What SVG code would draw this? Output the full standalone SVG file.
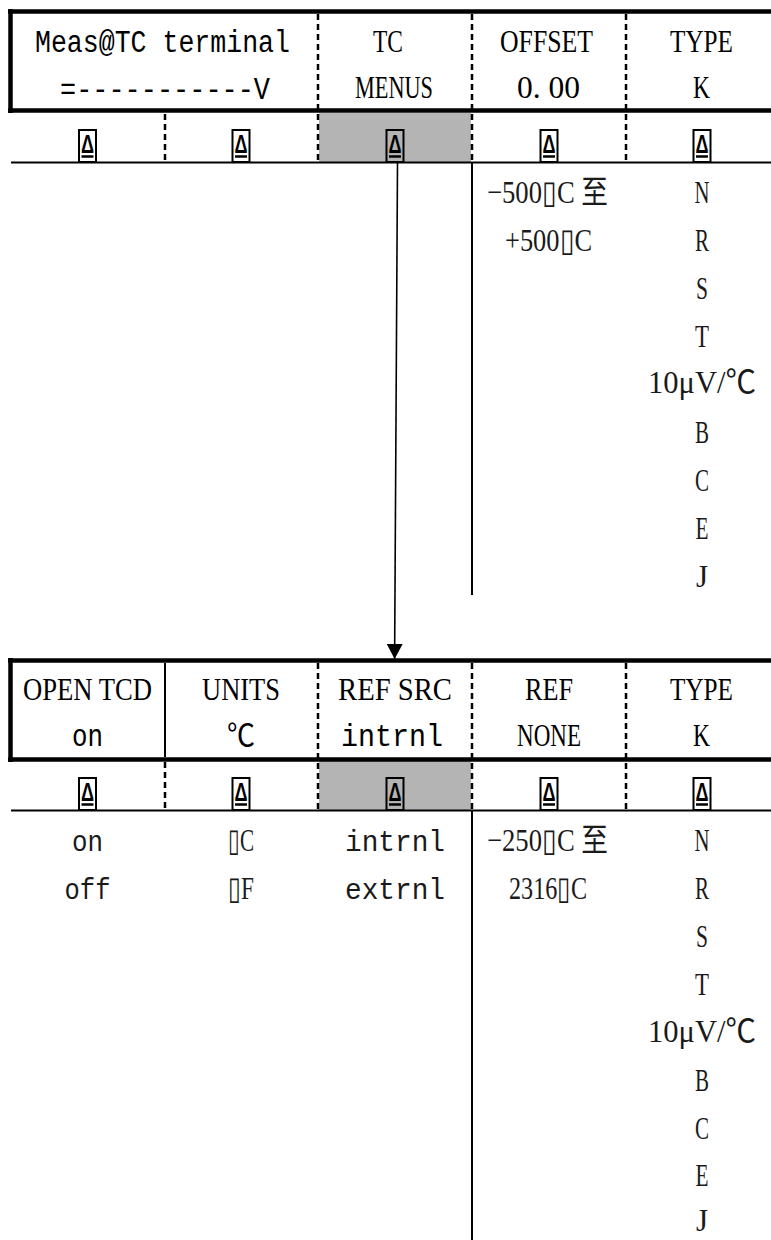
<svg xmlns="http://www.w3.org/2000/svg" xmlns:xlink="http://www.w3.org/1999/xlink" width="771" height="1240" viewBox="0 0 771 1240">
<style>
.thick{stroke:#000;stroke-width:4.5;fill:none}
.thin{stroke:#000;stroke-width:2;fill:none}
.dash{stroke:#000;stroke-width:2.5;stroke-dasharray:6 4;fill:none}
.grey{fill:#b4b4b4}
.t{font-family:"Liberation Serif","Noto Sans CJK SC",serif;font-size:31px;text-anchor:middle;fill:#000}
.m{font-family:"Liberation Mono","Noto Sans CJK SC",monospace;font-size:31px;text-anchor:middle;fill:#000}
.o{font-family:"Liberation Serif","Noto Sans CJK SC",serif;font-size:32px;text-anchor:middle;fill:#1a1a1a}
.om{font-family:"Liberation Mono","Noto Sans CJK SC",monospace;font-size:29px;text-anchor:middle;fill:#1a1a1a}
.tri{font-family:"Liberation Sans",sans-serif;font-weight:bold;font-size:25px;text-anchor:middle;fill:#000}
</style>
<defs>
<g id="key">
<rect x="-8.5" y="0" width="17" height="32" fill="none" stroke="#000" stroke-width="2"/>
<text class="tri" x="0" y="23" textLength="13" lengthAdjust="spacingAndGlyphs">Δ</text>
<line x1="-6" y1="26.5" x2="6" y2="26.5" stroke="#000" stroke-width="2.5"/>
</g>
<marker id="ah" markerWidth="16" markerHeight="16" refX="15" refY="8" orient="auto" markerUnits="userSpaceOnUse">
<path d="M0,0 L15,8 L0,16 z" fill="#000"/>
</marker>
</defs>
<rect width="771" height="1240" fill="#fff"/>

<!-- TOP MENU -->
<g id="top-menu">
<rect class="grey" x="319" y="113" width="152" height="49"/>
<line class="thick" x1="8" y1="11.5" x2="771" y2="11.5"/>
<line class="thick" x1="10.5" y1="9" x2="10.5" y2="113"/>
<line class="thick" x1="8" y1="110.5" x2="771" y2="110.5"/>
<line class="dash" x1="318" y1="14" x2="318" y2="162"/>
<line class="dash" x1="472" y1="14" x2="472" y2="162"/>
<line class="dash" x1="626" y1="14" x2="626" y2="162"/>
<line class="dash" x1="165" y1="114" x2="165" y2="162"/>
<line class="thin" x1="11" y1="162.5" x2="771" y2="162.5"/>
</g>
<g id="top-meas">
<text class="m" x="162.5" y="52" textLength="255" lengthAdjust="spacingAndGlyphs">Meas@TC terminal</text>
<text class="m" x="165" y="99" textLength="210" lengthAdjust="spacingAndGlyphs">=-----------V</text>
<use xlink:href="#key" x="87.5" y="130"/>
<use xlink:href="#key" x="241" y="130"/>
</g>
<g id="top-tcmenus">
<text class="t" x="388" y="52" textLength="30" lengthAdjust="spacingAndGlyphs">TC</text>
<text class="t" x="394" y="98" textLength="78" lengthAdjust="spacingAndGlyphs">MENUS</text>
<use xlink:href="#key" x="395" y="130"/>
</g>
<g id="top-offset">
<text class="t" x="546.5" y="52" textLength="93" lengthAdjust="spacingAndGlyphs">OFFSET</text>
<text class="t" x="548.5" y="98" textLength="63" lengthAdjust="spacingAndGlyphs">0. 00</text>
<use xlink:href="#key" x="549" y="130"/>
<line class="thin" x1="472" y1="163" x2="472" y2="595"/>
<text class="o" x="547.5" y="203" textLength="121" lengthAdjust="spacingAndGlyphs">−500▯C 至</text>
<text class="o" x="548.5" y="251" textLength="87" lengthAdjust="spacingAndGlyphs">+500▯C</text>
</g>
<g id="top-type">
<text class="t" x="701.5" y="52" textLength="63" lengthAdjust="spacingAndGlyphs">TYPE</text>
<text class="t" x="701.5" y="98" textLength="17" lengthAdjust="spacingAndGlyphs">K</text>
<use xlink:href="#key" x="702" y="130"/>
<text class="o" x="702" y="203" textLength="15" lengthAdjust="spacingAndGlyphs">N</text>
<text class="o" x="702" y="251" textLength="14" lengthAdjust="spacingAndGlyphs">R</text>
<text class="o" x="702" y="299" textLength="12" lengthAdjust="spacingAndGlyphs">S</text>
<text class="o" x="702" y="347" textLength="14" lengthAdjust="spacingAndGlyphs">T</text>
<text class="o" x="702" y="393" textLength="108" lengthAdjust="spacingAndGlyphs">10μV/℃</text>
<text class="o" x="702" y="443" textLength="14" lengthAdjust="spacingAndGlyphs">B</text>
<text class="o" x="702" y="491" textLength="14" lengthAdjust="spacingAndGlyphs">C</text>
<text class="o" x="702" y="539" textLength="13" lengthAdjust="spacingAndGlyphs">E</text>
<text class="o" x="702" y="587" textLength="12" lengthAdjust="spacingAndGlyphs">J</text>
</g>

<!-- BOTTOM MENU -->
<g id="bottom-menu">
<rect class="grey" x="319" y="761" width="152" height="49"/>
<line class="thick" x1="8" y1="660.5" x2="771" y2="660.5"/>
<line class="thick" x1="10.5" y1="658" x2="10.5" y2="762"/>
<line class="thick" x1="8" y1="759.5" x2="771" y2="759.5"/>
<line class="thin" x1="165" y1="663" x2="165" y2="757"/>
<line class="dash" x1="165" y1="762" x2="165" y2="810"/>
<line class="dash" x1="318" y1="663" x2="318" y2="810"/>
<line class="dash" x1="472" y1="663" x2="472" y2="810"/>
<line class="dash" x1="626" y1="663" x2="626" y2="810"/>
<line class="thin" x1="11" y1="810.5" x2="771" y2="810.5"/>
</g>
<g id="bottom-opentcd">
<text class="t" x="87.5" y="700" textLength="129" lengthAdjust="spacingAndGlyphs">OPEN TCD</text>
<text class="m" x="87.5" y="746" textLength="31" lengthAdjust="spacingAndGlyphs">on</text>
<use xlink:href="#key" x="87.5" y="778"/>
<text class="om" x="87.5" y="851" textLength="31" lengthAdjust="spacingAndGlyphs">on</text>
<text class="om" x="87.5" y="899" textLength="46" lengthAdjust="spacingAndGlyphs">off</text>
</g>
<g id="bottom-units">
<text class="t" x="241" y="700" textLength="78" lengthAdjust="spacingAndGlyphs">UNITS</text>
<text class="t" x="241" y="746" textLength="28" lengthAdjust="spacingAndGlyphs">℃</text>
<use xlink:href="#key" x="241" y="778"/>
<text class="o" x="241" y="851" textLength="26" lengthAdjust="spacingAndGlyphs">▯C</text>
<text class="o" x="241" y="899" textLength="26" lengthAdjust="spacingAndGlyphs">▯F</text>
</g>
<g id="bottom-refsrc">
<text class="t" x="395" y="700" textLength="114" lengthAdjust="spacingAndGlyphs">REF SRC</text>
<text class="m" x="392" y="746" textLength="102" lengthAdjust="spacingAndGlyphs">intrnl</text>
<use xlink:href="#key" x="395" y="778"/>
<text class="om" x="395" y="851" textLength="100" lengthAdjust="spacingAndGlyphs">intrnl</text>
<text class="om" x="395" y="899" textLength="100" lengthAdjust="spacingAndGlyphs">extrnl</text>
</g>
<g id="bottom-ref">
<text class="t" x="549" y="700" textLength="48" lengthAdjust="spacingAndGlyphs">REF</text>
<text class="t" x="549" y="746" textLength="64" lengthAdjust="spacingAndGlyphs">NONE</text>
<use xlink:href="#key" x="549" y="778"/>
<line class="thin" x1="472" y1="811" x2="472" y2="1240"/>
<text class="o" x="547.5" y="851" textLength="121" lengthAdjust="spacingAndGlyphs">−250▯C 至</text>
<text class="o" x="548" y="899" textLength="78" lengthAdjust="spacingAndGlyphs">2316▯C</text>
</g>
<g id="bottom-type">
<text class="t" x="701.5" y="700" textLength="63" lengthAdjust="spacingAndGlyphs">TYPE</text>
<text class="t" x="701.5" y="746" textLength="17" lengthAdjust="spacingAndGlyphs">K</text>
<use xlink:href="#key" x="702" y="778"/>
<text class="o" x="702" y="851" textLength="15" lengthAdjust="spacingAndGlyphs">N</text>
<text class="o" x="702" y="899" textLength="14" lengthAdjust="spacingAndGlyphs">R</text>
<text class="o" x="702" y="947" textLength="12" lengthAdjust="spacingAndGlyphs">S</text>
<text class="o" x="702" y="995" textLength="14" lengthAdjust="spacingAndGlyphs">T</text>
<text class="o" x="702" y="1042" textLength="108" lengthAdjust="spacingAndGlyphs">10μV/℃</text>
<text class="o" x="702" y="1091" textLength="14" lengthAdjust="spacingAndGlyphs">B</text>
<text class="o" x="702" y="1139" textLength="14" lengthAdjust="spacingAndGlyphs">C</text>
<text class="o" x="702" y="1186" textLength="13" lengthAdjust="spacingAndGlyphs">E</text>
<text class="o" x="702" y="1231" textLength="12" lengthAdjust="spacingAndGlyphs">J</text>
</g>

<g id="connectors">
<line x1="397.5" y1="163" x2="394.6" y2="659" stroke="#000" stroke-width="1.6" marker-end="url(#ah)"/>
</g>
</svg>
